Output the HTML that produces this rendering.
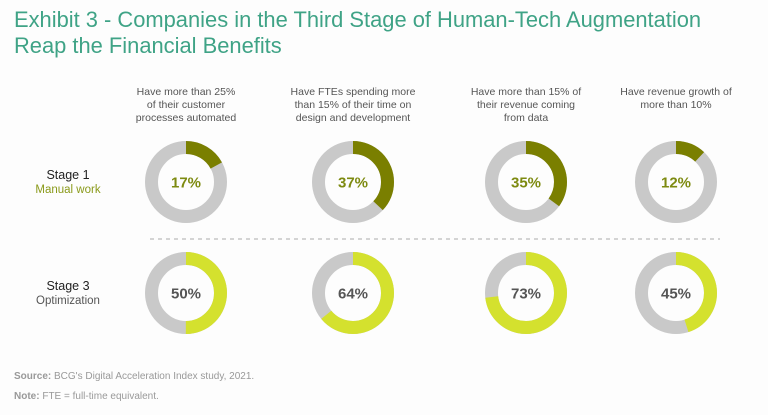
<!DOCTYPE html>
<html><head><meta charset="utf-8"><style>
body{margin:0;width:768px;height:415px;background:#fdfdfd;font-family:"Liberation Sans",sans-serif;overflow:hidden;position:relative}
.t{position:absolute;white-space:nowrap}
.title{left:14px;top:7px;font-size:21.9px;line-height:26px;color:#3fa386}
.hdr{font-size:10.5px;line-height:13px;color:#555;text-align:center;transform:translateX(-50%);top:86px}
.stage{font-size:12.5px;color:#222;text-align:center;transform:translateX(-50%)}
.foot{left:14px;font-size:10px;color:#999}
.foot b{color:#999}
</style></head><body>
<div class="t title">Exhibit 3 - Companies in the Third Stage of Human-Tech Augmentation<br>Reap the Financial Benefits</div>
<div class="t hdr" style="left:186px">Have more than 25%<br>of their customer<br>processes automated</div>
<div class="t hdr" style="left:353px">Have FTEs spending more<br>than 15% of their time on<br>design and development</div>
<div class="t hdr" style="left:526px">Have more than 15% of<br>their revenue coming<br>from data</div>
<div class="t hdr" style="left:676px">Have revenue growth of<br>more than 10%</div>
<div class="t stage" style="left:68px;top:168px">Stage 1<br><span style="color:#8a9a1a;font-size:11.5px">Manual work</span></div>
<div class="t stage" style="left:68px;top:279px">Stage 3<br><span style="color:#555;font-size:11.5px">Optimization</span></div>
<div class="t foot" style="top:371px"><b>Source:</b> BCG's Digital Acceleration Index study, 2021.</div>
<div class="t foot" style="top:391px"><b>Note:</b> FTE = full-time equivalent.</div>
<svg id="c" width="768" height="415" style="position:absolute;left:0;top:0">
<line x1="150" y1="239" x2="720" y2="239" stroke="#bbb" stroke-width="1.2" stroke-dasharray="4,4"/>
</svg>
<script>
const categories=["customer-automation","fte-design","revenue-data","revenue-growth"];
const stage1Values=[17,37,35,12];
const stage3Values=[50,64,73,45];
const colX=[186,353,526,676];
const svg=document.getElementById('c');
const NS="http://www.w3.org/2000/svg";
const R=34.5,W=13;
function arc(cx,cy,v,color,name){
  const c=document.createElementNS(NS,'circle');
  c.setAttribute('cx',cx);c.setAttribute('cy',cy);c.setAttribute('r',R);
  c.setAttribute('fill','none');c.setAttribute('stroke','#c9c9c9');c.setAttribute('stroke-width',W);
  
  
  svg.appendChild(c);
  const L=2*Math.PI*R;
  const a=document.createElementNS(NS,'circle');
  a.setAttribute('cx',cx);a.setAttribute('cy',cy);a.setAttribute('r',R);
  a.setAttribute('fill','none');a.setAttribute('stroke',color);a.setAttribute('stroke-width',W);
  a.setAttribute('stroke-dasharray',(L*v/100)+' '+L);
  a.setAttribute('transform','rotate(-90 '+cx+' '+cy+')');
  
  
  svg.appendChild(a);
}
function label(cx,cy,v,color,name){
  const t=document.createElementNS(NS,'text');
  t.setAttribute('x',cx);t.setAttribute('y',cy+5.5);t.setAttribute('text-anchor','middle');
  t.setAttribute('font-size','15');t.setAttribute('font-weight','bold');t.setAttribute('fill',color);
  t.setAttribute('font-family','Liberation Sans, sans-serif');
  t.textContent=v+'%';
  
  
  svg.appendChild(t);
}
categories.forEach((k,i)=>{
  arc(colX[i],182,stage1Values[i],'#7a7f00','stage1-'+k);
  label(colX[i],182,stage1Values[i],'#7d8a10','stage1-'+k+'-value');
  arc(colX[i],293,stage3Values[i],'#d4e12e','stage3-'+k);
  label(colX[i],293,stage3Values[i],'#555','stage3-'+k+'-value');
});
</script>
</body></html>
